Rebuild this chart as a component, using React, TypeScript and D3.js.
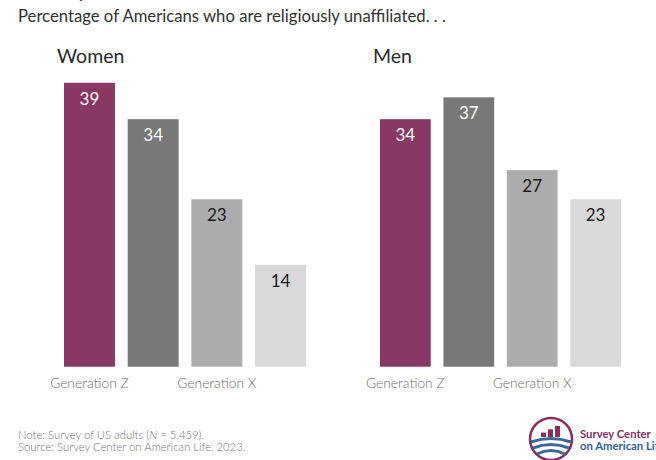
import React from "react";
import * as d3 from "d3";

const categories = ["Generation Z", "Millennials", "Generation X", "Baby Boomers"];
const tickLabels = ["Generation Z", "", "Generation X", ""];
const womenValues = [39, 34, 23, 14];
const menValues = [34, 37, 27, 23];
const panelTitles = ["Women", "Men"];
const barColors = ["#893863", "#787878", "#acacac", "#d9d9d9"];
const labelColors = ["#ffffff", "#ffffff", "#1a1a1a", "#1a1a1a"];

const W = 656;
const H = 460;
const FONT = "Lato, 'Open Sans', sans-serif";

const y = d3.scaleLinear().domain([0, 40]).range([366.7, 75.5]);

function Panel({ title, values, x0, x1 }: { title: string; values: number[]; x0: number; x1: number }) {
  const x = d3.scaleBand<string>().domain(categories).range([x0, x1]).paddingInner(0.2).paddingOuter(0);
  return (
    <g>
      <text x={x0 - 7} y={63} fontFamily={FONT} fontSize={19.5} fill="#2a2a2a">{title}</text>
      {categories.map((c, i) => (
        <g key={c}>
          <rect x={x(c)} y={y(values[i])} width={x.bandwidth()} height={y(0) - y(values[i])} fill={barColors[i]} />
          <text x={(x(c) as number) + x.bandwidth() / 2} y={y(values[i]) + 22} textAnchor="middle"
            fontFamily={FONT} fontSize={17} fill={labelColors[i]}>{values[i]}</text>
          {tickLabels[i] && (
            <text x={(x(c) as number) + x.bandwidth() / 2} y={388} textAnchor="middle"
              fontFamily={FONT} fontSize={13.8} fontWeight={300} fill="#6e6e6e">{tickLabels[i]}</text>
          )}
        </g>
      ))}
    </g>
  );
}

function Logo() {
  const cx = 551, cy = 439, r = 21;
  const iy = d3.scaleLinear().domain([0, 3]).range([0, 11]);
  const logoBars = [1.2, 2.1, 3];
  return (
    <g>
      <circle cx={cx} cy={cy} r={r} fill="none" stroke="#8a2d5e" strokeWidth={2.5} />
      <path d={`M ${cx - r + 1} ${cy + 3} Q ${cx} ${cy - 4} ${cx + r - 1} ${cy + 3}`} fill="none" stroke="#3a6a9a" strokeWidth={3} />
      <path d={`M ${cx - r + 3} ${cy + 9} Q ${cx} ${cy + 2} ${cx + r - 3} ${cy + 9}`} fill="none" stroke="#3a6a9a" strokeWidth={3} />
      <path d={`M ${cx - r + 7} ${cy + 15} Q ${cx} ${cy + 8} ${cx + r - 7} ${cy + 15}`} fill="none" stroke="#3a6a9a" strokeWidth={3} />
      {logoBars.map((v, i) => (
        <rect key={i} x={cx - 10 + i * 7} y={cy - 2 - iy(v)} width={5} height={iy(v)} fill="#8a2d5e" />
      ))}
      <text x={580} y={438} fontFamily={FONT} fontSize={11.3} fontWeight={700} fill="#8a2d5e">Survey Center</text>
      <text x={580} y={450} fontFamily={FONT} fontSize={11.3} fontWeight={700} fill="#2f6498">on American Life</text>
    </g>
  );
}

export default function App() {
  return (
    <svg width={W} height={H} style={{ position: "absolute", left: 0, top: 0, background: "#fff" }}>
      <rect width={W} height={H} fill="#fff" />
      <text x={77} y={-3} fontFamily={FONT} fontSize={22} fill="#333">y</text>
      <text x={18} y={22} fontFamily={FONT} fontSize={16.7} fill="#333">Percentage of Americans who are religiously unaffiliated. . .</text>
      <Panel title={panelTitles[0]} values={womenValues} x0={64} x1={306} />
      <Panel title={panelTitles[1]} values={menValues} x0={380} x1={621} />
      <text x={18} y={438.5} fontFamily={FONT} fontSize={11.3} fontWeight={300} fill="#767676">
        Note: Survey of US adults (<tspan fontStyle="italic">N</tspan> = 5,459).
      </text>
      <text x={18} y={451} fontFamily={FONT} fontSize={11.3} fontWeight={300} fill="#767676">Source: Survey Center on American Life, 2023.</text>
      <Logo />
    </svg>
  );
}
